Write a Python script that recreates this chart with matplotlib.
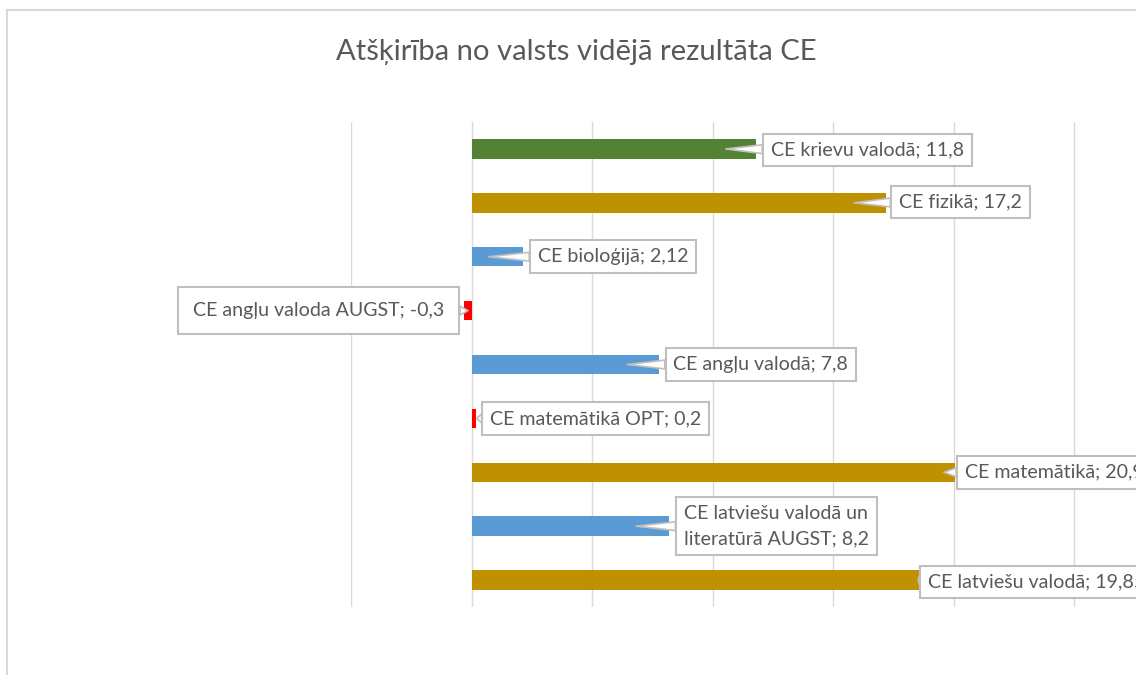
import matplotlib.pyplot as plt
from matplotlib.patches import Rectangle

plt.rcParams['font.family'] = ['Lato', 'DejaVu Sans']

# data, top to bottom
subjects = ['CE krievu valodā', 'CE fizikā', 'CE bioloģijā', 'CE angļu valoda AUGST',
            'CE angļu valodā', 'CE matemātikā OPT', 'CE matemātikā',
            'CE latviešu valodā un\nliteratūrā AUGST', 'CE latviešu valodā']
label_values = ['11,8', '17,2', '2,12', '-0,3', '7,8', '0,2', '20,9', '8,2', '19,85']
bar_values = [11.8, 17.2, 2.12, -0.3, 7.8, 0.2, 20.05, 8.2, 18.65]
bar_colors = ['#548235', '#BF9000', '#5B9BD5', '#FF0000', '#5B9BD5',
              '#FF0000', '#BF9000', '#5B9BD5', '#BF9000']

# callout layout: pointer tip pulled back into the bar (data units), text offset from tip (px)
tip_back = [1.25, 1.33, 1.4, -0.15, 1.33, 0.0, 0.45, 1.37, 0.12]
text_dx = [45, 45, 49, -275, 46, 14, 21, 48, 10]
text_dy = [-1, 1, 0, 0, 0, 0, 0, 0, -2]
box_pad = [0.4, 0.4, 0.4, 0.78, 0.4, 0.4, 0.4, 0.4, 0.4]

W, H = 1136, 675
fig = plt.figure(figsize=(W / 100, H / 100), dpi=100)

# chart border (the chart area runs past the right/bottom edge)
fig.patches.append(Rectangle((7 / W, -0.1), 1.2, 1 - 10 / H + 0.1, transform=fig.transFigure,
                             fill=False, ec='#D9D9D9', lw=1.5))

ax = fig.add_axes([351 / W, 1 - 607 / H, 843.5 / W, 485 / H])
ypos = list(range(len(bar_values)))
ax.barh(ypos, bar_values, height=0.36, color=bar_colors, zorder=2)

ax.set_xlim(-5, 30)
ax.set_ylim(len(bar_values) - 0.5, -0.5)
ax.set_xticks(range(-5, 30, 5))
ax.set_yticks([])
ax.tick_params(axis='x', length=0, labelbottom=False)
ax.grid(axis='x', color='#D9D9D9', lw=1, zorder=0)
for s in ax.spines.values():
    s.set_visible(False)

for i, (name, lv, v) in enumerate(zip(subjects, label_values, bar_values)):
    ax.annotate(f'{name}; {lv}', xy=(v - tip_back[i], i), xytext=(text_dx[i], text_dy[i]),
                textcoords='offset pixels', ha='left', va='center', fontsize=14.1,
                linespacing=1.6, color='#595959', zorder=5, annotation_clip=False,
                bbox=dict(boxstyle=f'square,pad={box_pad[i]}', fc='white', ec='#BFBFBF', lw=1.5),
                arrowprops=dict(arrowstyle='wedge,tail_width=0.45,shrink_factor=0.5',
                                fc='white', ec='#BFBFBF', lw=1.2, shrinkA=0, shrinkB=0))

fig.text(576 / W, 1 - 52 / H, 'Atšķirība no valsts vidējā rezultāta CE',
         ha='center', va='center', fontsize=21.1, color='#595959')

fig.savefig('out.png', dpi=100)
